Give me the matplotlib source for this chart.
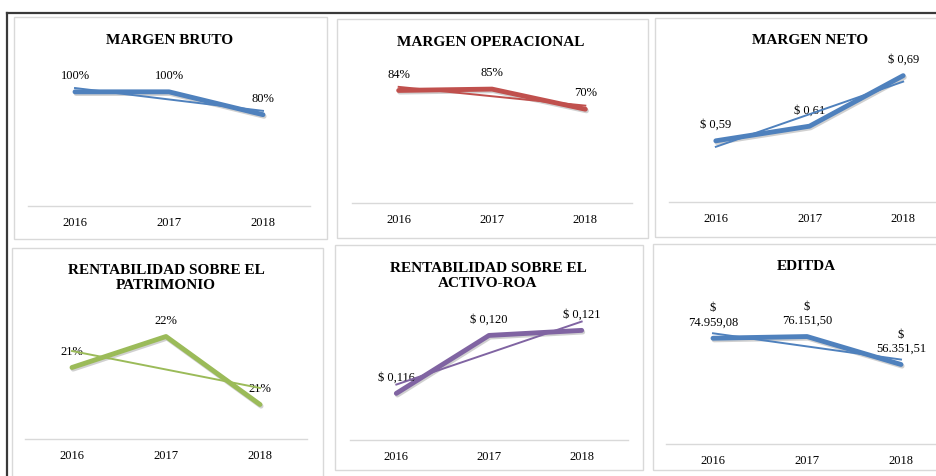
import matplotlib
matplotlib.use('Agg')
import matplotlib.pyplot as plt
import matplotlib.patheffects as pe
from matplotlib.lines import Line2D
from matplotlib.patches import Rectangle
import numpy as np

plt.rcParams['font.family'] = ['Liberation Serif', 'DejaVu Serif']

# datos
years = ['2016', '2017', '2018']
margen_bruto = [1.00, 1.00, 0.80]
margen_operacional = [0.84, 0.85, 0.70]
margen_neto = [0.592, 0.614, 0.690]
rent_patrimonio = [0.2143, 0.2205, 0.2069]
rent_activo = [0.1157, 0.1203, 0.1207]
editda = [74959.08, 76151.50, 56351.51]

titles = ['MARGEN BRUTO', 'MARGEN OPERACIONAL', 'MARGEN NETO',
          'RENTABILIDAD SOBRE EL\nPATRIMONIO', 'RENTABILIDAD SOBRE EL\nACTIVO-ROA', 'EDITDA']


def fmt_pct(v):
    return f'{v * 100:.0f}%'


def fmt_money2(v):
    return '$ ' + f'{v:.2f}'.replace('.', ',')


def fmt_money3(v):
    return '$ ' + f'{v:.3f}'.replace('.', ',')


def fmt_big(v):
    s = f'{v:,.2f}'.replace(',', 'X').replace('.', ',').replace('X', '.')
    return '$\n' + s


W, H = 936, 476

# layout en pixeles (izq, arriba, der, abajo)
panel_boxes = [(14, 17, 327, 239), (337, 19, 648, 238), (655, 18, 950, 237),
               (12, 248, 323, 480), (335, 245, 643, 470), (653, 244, 950, 470)]
plot_areas = [(28, 69, 310, 206), (352, 69, 632, 203), (669, 69, 950, 202),
              (25, 314, 307, 439), (350, 314, 628, 440), (666, 317, 948, 444)]
title_pos = [(170, 40), (491, 42), (810, 40), (166, 278), (488, 276), (806, 267)]
ylims = [(0, 1.2), (0, 1.0), (0.5, 0.7), (0.20, 0.225), (0.112, 0.122), (0, 90000)]
colors = ['#4f81bd', '#c0504d', '#4f81bd', '#9bbb59', '#8064a2', '#4f81bd']

series = [margen_bruto, margen_operacional, margen_neto, rent_patrimonio, rent_activo, editda]
formatters = [fmt_pct, fmt_pct, fmt_money2, fmt_pct, fmt_money3, fmt_big]


def rect(l, t, r, b):
    return [l / W, 1 - b / H, (r - l) / W, (b - t) / H]


fig = plt.figure(figsize=(W / 100, H / 100), dpi=100)
fig.patch.set_facecolor('white')

# marco exterior
fig.add_artist(Line2D([7 / W, 1], [1 - 13 / H, 1 - 13 / H], color='#3a3a3a', lw=1.6))
fig.add_artist(Line2D([7 / W, 7 / W], [0, 1 - 13 / H], color='#3a3a3a', lw=1.6))

for i in range(6):
    l, t, r, b = panel_boxes[i]
    fig.add_artist(Rectangle((l / W, 1 - b / H), (r - l) / W, (b - t) / H,
                             transform=fig.transFigure, fill=False,
                             edgecolor='#d9d9d9', lw=1.0))

    ax = fig.add_axes(rect(*plot_areas[i]))
    vals = series[i]
    x = np.arange(len(years))
    c = colors[i]

    ax.plot(x, vals, color=c, lw=3.5, solid_capstyle='round', zorder=3,
            path_effects=[pe.SimpleLineShadow(offset=(0.8, -1.2), shadow_color='#666666', alpha=0.3),
                          pe.Normal()])
    coef = np.polyfit(x, vals, 1)
    ax.plot(x, np.polyval(coef, x), color=c, lw=1.4, zorder=4)

    for xi, v in zip(x, vals):
        ax.annotate(formatters[i](v), (xi, v), xytext=(0, 7), textcoords='offset points',
                    ha='center', va='bottom', fontsize=9, multialignment='center',
                    linespacing=1.25, annotation_clip=False)

    ax.set_xlim(-0.5, 2.5)
    ax.set_ylim(*ylims[i])
    ax.set_xticks(x)
    ax.set_xticklabels(years, fontsize=9)
    ax.tick_params(axis='x', length=0, pad=8)
    ax.set_yticks([])
    for side in ['top', 'left', 'right']:
        ax.spines[side].set_visible(False)
    ax.spines['bottom'].set_color('#d9d9d9')
    ax.spines['bottom'].set_linewidth(1.0)
    ax.patch.set_alpha(0)

    tx, ty = title_pos[i]
    fig.text(tx / W, 1 - ty / H, titles[i], ha='center', va='center', fontsize=11,
             fontweight='bold', linespacing=1.2)

fig.savefig('out.png', dpi=100)
